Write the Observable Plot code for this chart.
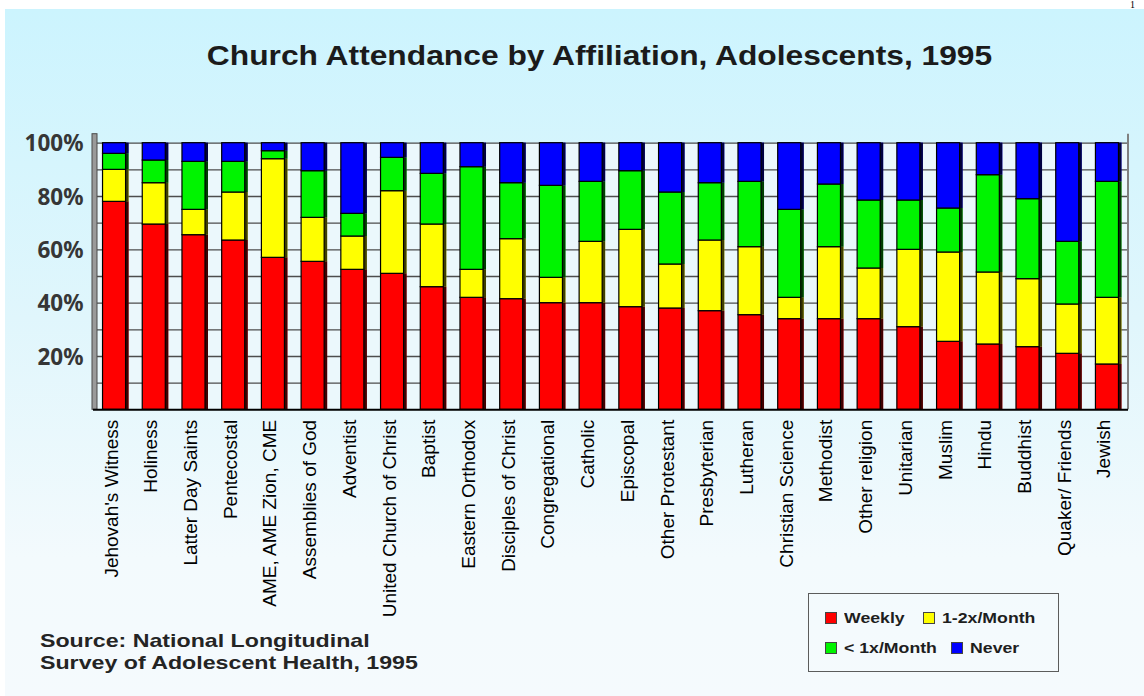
<!DOCTYPE html>
<html>
<head>
<meta charset="utf-8">
<script src="https://cdn.jsdelivr.net/npm/d3@7"></script>
<script src="https://cdn.jsdelivr.net/npm/@observablehq/plot@0.6"></script>
<style>
  html, body { margin: 0; padding: 0; background: #fff; width: 1144px; height: 696px; overflow: hidden; }
  #page-no { position: absolute; left: 1130px; top: 0px; font: 10px/9px "Liberation Serif", serif; color: #000; }
  #panel {
    position: absolute; left: 5px; top: 9px; width: 1139px; height: 687px;
    background: linear-gradient(#ccf4fe 0%, #e0f6fc 45%, #f3fafd 80%, #f5fafd 100%);
    font-family: "Liberation Sans", Arial, sans-serif;
  }
  #chart { position: absolute; left: 0; top: 0; }
  #chart g[aria-label="affiliation labels"] text { letter-spacing: 0.45px; }
  #title {
    position: absolute; left: 25px; width: 1139px; top: 33px; text-align: center;
    font-size: 27.5px; line-height: 27.5px; font-weight: bold; color: #1b1b1b;
    transform: scaleX(1.155); transform-origin: 569.5px 0;
  }
  #source {
    position: absolute; left: 35px; top: 621px; font-size: 19px; line-height: 22px;
    font-weight: bold; color: #242424; transform: scaleX(1.22); transform-origin: 0 0;
  }
  #legend {
    position: absolute; left: 803px; top: 584px; width: 249px; height: 77px;
    border: 1.5px solid #5c5c5c; box-sizing: content-box;
  }
  .item { position: absolute; display: flex; align-items: center; font-size: 15px; font-weight: bold; color: #1e1e1e; }
  .item span.sw { display: inline-block; width: 10px; height: 10px; border: 1px solid #444; margin-right: 7px; }
  .item span.lb { display: inline-block; transform: scaleX(1.18); transform-origin: 0 50%; white-space: nowrap; }
</style>
</head>
<body>
<div id="page-no">1</div>
<div id="panel">
  <div id="chart"></div>
  <div id="title">Church Attendance by Affiliation, Adolescents, 1995</div>
  <div id="source">Source: National Longitudinal<br>Survey of Adolescent Health, 1995</div>
  <div id="legend"></div>
</div>
<script>
// Affiliations, in chart order
const categories = [
  "Jehovah's Witness", "Holiness", "Latter Day Saints", "Pentecostal",
  "AME, AME Zion, CME", "Assemblies of God", "Adventist", "United Church of Christ",
  "Baptist", "Eastern Orthodox", "Disciples of Christ", "Congregational",
  "Catholic", "Episcopal", "Other Protestant", "Presbyterian", "Lutheran",
  "Christian Science", "Methodist", "Other religion", "Unitarian", "Muslim",
  "Hindu", "Buddhist", "Quaker/ Friends", "Jewish"
];

// Share of adolescents (%) by attendance frequency
const weekly = [78, 69.5, 65.5, 63.5, 57, 55.5, 52.5, 51, 46, 42, 41.5, 40, 40, 38.5, 38, 37, 35.5, 34, 34, 34, 31, 25.5, 24.5, 23.5, 21, 17];
const monthly = [12, 15.5, 9.5, 18, 37, 16.5, 12.5, 31, 23.5, 10.5, 22.5, 9.5, 23, 29, 16.5, 26.5, 25.5, 8, 27, 19, 29, 33.5, 27, 25.5, 18.5, 25];
const lessThanMonthly = [6, 8.5, 18, 11.5, 3, 17.5, 8.5, 12.5, 19, 38.5, 21, 34.5, 22.5, 22, 27, 21.5, 24.5, 33, 23.5, 25.5, 18.5, 16.5, 36.5, 30, 23.5, 43.5];
const never = [4, 6.5, 7, 7, 3, 10.5, 26.5, 5.5, 11.5, 9, 15, 16, 14.5, 10.5, 18.5, 15, 14.5, 25, 15.5, 21.5, 21.5, 24.5, 12, 21, 37, 14.5];

const seriesNames = ["Weekly", "1-2x/Month", "< 1x/Month", "Never"];
const seriesColors = ["#ff0000", "#ffff00", "#00f400", "#0000ff"];
const seriesValues = [weekly, monthly, lessThanMonthly, never];

const yTicks = [20, 40, 60, 80, 100];
const gridTicks = [10, 20, 30, 40, 50, 60, 70, 80, 90, 100];

// long-format rows for stacking (input order = stacking order)
const rows = categories.flatMap((category, i) =>
  seriesNames.map((series, k) => ({category, series, value: seriesValues[k][i]}))
);

// grey side wall on the left and the back edge on the right
function walls(index, scales, values, dims) {
  const g = d3.create("svg:g");
  const top = scales.y(100) - 9;
  const bottom = scales.y(0);
  const xl = dims.marginLeft;
  const xr = dims.width - dims.marginRight;
  g.append("rect")
    .attr("x", xl - 1).attr("y", top).attr("width", 5).attr("height", bottom - top)
    .attr("fill", "#9a9a9a").attr("stroke", "#4a4a4a").attr("stroke-width", 1);
  g.append("line")
    .attr("x1", xr).attr("x2", xr).attr("y1", top).attr("y2", bottom)
    .attr("stroke", "#808080").attr("stroke-width", 2);
  return g.node();
}

const stackOpts = {x: "category", y: "value", z: "series"};

const chart = Plot.plot({
  width: 1139,
  height: 687,
  marginLeft: 88,
  marginRight: 16,
  marginTop: 133.7,
  marginBottom: 286.7,
  style: {background: "transparent", overflow: "visible"},
  x: {domain: categories, paddingInner: 0.42, paddingOuter: 0.24, round: false, axis: null},
  y: {domain: [0, 100], axis: null},
  color: {domain: seriesNames, range: seriesColors},
  marks: [
    Plot.frame({fill: "#ebf8fc", stroke: null}),
    Plot.ruleY(gridTicks, {stroke: "#4d4d4d", strokeWidth: 1.3}),
    walls,
    // right-hand shadow of each bar
    Plot.barY(rows, Plot.stackY({...stackOpts, fill: "series", dx: 3})),
    Plot.barY(rows, Plot.stackY({...stackOpts, fill: "#000", fillOpacity: 0.75, dx: 3})),
    Plot.barY(rows, Plot.stackY({...stackOpts, fill: "series", stroke: "#000", strokeWidth: 1.2})),
    Plot.ruleY([0], {stroke: "#000", strokeWidth: 2}),
    Plot.text(yTicks, {
      y: d => d, text: d => `${d}%`, frameAnchor: "left", textAnchor: "end",
      dx: -10, dy: 1, fontSize: 22.5, fontWeight: "bold", fill: "#363636"
    }),
    Plot.text(categories, {
      x: d => d, text: d => d, frameAnchor: "bottom", rotate: -90, textAnchor: "end",
      dy: 10, dx: 3, fontSize: 19, fill: "#000", ariaLabel: "affiliation labels",
      fontFamily: "Liberation Sans, Arial, sans-serif"
    })
  ]
});
document.getElementById("chart").append(chart);

// legend: two rows of swatches
const legendPos = [[16, 15], [114, 15], [16, 45], [142, 45]];
const legend = document.getElementById("legend");
seriesNames.forEach((name, k) => {
  const item = document.createElement("div");
  item.className = "item";
  item.style.left = legendPos[k][0] + "px";
  item.style.top = legendPos[k][1] + "px";
  item.innerHTML = `<span class="sw" style="background:${seriesColors[k]}"></span><span class="lb"></span>`;
  item.querySelector(".lb").textContent = name;
  legend.append(item);
});
</script>
</body>
</html>
